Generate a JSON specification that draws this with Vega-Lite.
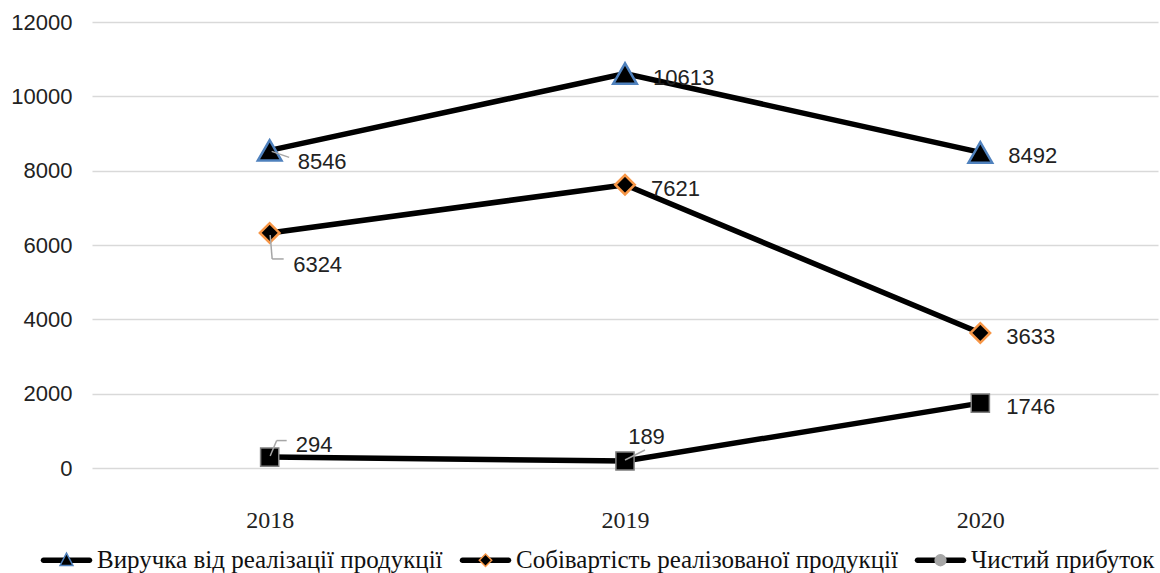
{
  "$schema": "https://vega.github.io/schema/vega-lite/v6.json",
  "width": 1066,
  "height": 446,
  "autosize": {"type": "none"},
  "padding": {"left": 92, "top": 22, "right": 2, "bottom": 105},
  "background": "white",
  "config": {
    "view": {"stroke": null},
    "axis": {"title": null},
    "legend": {
      "title": null,
      "orient": "none",
      "legendX": -52,
      "legendY": 511.5,
      "direction": "horizontal",
      "columns": 3,
      "columnPadding": 13,
      "padding": 0,
      "symbolSize": 2652.25,
      "symbolStrokeWidth": 1.5,
      "symbolOpacity": 1,
      "labelOffset": 4,
      "labelLimit": 1000,
      "labelFont": "Liberation Serif",
      "labelFontSize": 25,
      "labelColor": "#111111"
    }
  },
  "data": {
    "values": [
      {"year": "2018", "series": "Виручка від реалізації продукції", "value": 8546},
      {"year": "2019", "series": "Виручка від реалізації продукції", "value": 10613},
      {"year": "2020", "series": "Виручка від реалізації продукції", "value": 8492},
      {"year": "2018", "series": "Собівартість реалізованої продукції", "value": 6324},
      {"year": "2019", "series": "Собівартість реалізованої продукції", "value": 7621},
      {"year": "2020", "series": "Собівартість реалізованої продукції", "value": 3633},
      {"year": "2018", "series": "Чистий прибуток", "value": 294},
      {"year": "2019", "series": "Чистий прибуток", "value": 189},
      {"year": "2020", "series": "Чистий прибуток", "value": 1746}
    ]
  },
  "encoding": {
    "x": {
      "field": "year",
      "type": "nominal",
      "scale": {"type": "point", "padding": 0.5},
      "axis": {
        "domain": false,
        "ticks": false,
        "grid": false,
        "labelAngle": 0,
        "labelFont": "Liberation Serif",
        "labelFontSize": 24,
        "labelColor": "#222222",
        "labelPadding": 40
      }
    },
    "y": {
      "field": "value",
      "type": "quantitative",
      "scale": {"domain": [0, 12000], "nice": false},
      "axis": {
        "values": [0, 2000, 4000, 6000, 8000, 10000, 12000],
        "format": "d",
        "domain": false,
        "ticks": false,
        "grid": true,
        "gridColor": "#d9d9d9",
        "gridWidth": 1.5,
        "labelFont": "Liberation Sans",
        "labelFontSize": 22,
        "labelColor": "#222222",
        "labelPadding": 20
      }
    }
  },
  "resolve": {
    "scale": {"shape": "independent", "fill": "independent", "stroke": "independent"},
    "legend": {"shape": "independent", "fill": "independent", "stroke": "independent"}
  },
  "layer": [
    {
      "mark": {"type": "line", "color": "#000000", "strokeWidth": 5.5},
      "encoding": {"detail": {"field": "series", "type": "nominal"}}
    },
    {
      "transform": [{"filter": "datum.series === 'Виручка від реалізації продукції'"}],
      "mark": {"type": "point", "shape": "triangle-up", "filled": true, "fill": "#000000", "stroke": "#4f81bd", "opacity": 1, "size": 560, "strokeWidth": 2.5}
    },
    {
      "transform": [{"filter": "datum.series === 'Собівартість реалізованої продукції'"}],
      "mark": {"type": "point", "shape": "diamond", "filled": true, "fill": "#000000", "stroke": "#f79646", "opacity": 1, "size": 380, "strokeWidth": 2.5}
    },
    {
      "transform": [{"filter": "datum.series === 'Чистий прибуток'"}],
      "mark": {"type": "point", "shape": "square", "filled": true, "fill": "#000000", "stroke": "#808080", "opacity": 1, "size": 330, "strokeWidth": 1.5}
    },
    {
      "mark": {"type": "point", "filled": true, "fill": "#000000", "stroke": "#000000", "opacity": 0, "strokeWidth": 1.5},
      "encoding": {
        "shape": {
          "field": "series",
          "type": "nominal",
          "scale": {
            "domain": ["Виручка від реалізації продукції", "Собівартість реалізованої продукції", "Чистий прибуток"],
            "range": [
              "M-0.893,-0.107L0.893,-0.107A0.107,0.107 0 0 1 0.893,0.107L-0.893,0.107A0.107,0.107 0 0 1 -0.893,-0.107Z",
              "M-0.893,-0.107L0.893,-0.107A0.107,0.107 0 0 1 0.893,0.107L-0.893,0.107A0.107,0.107 0 0 1 -0.893,-0.107Z",
              "M-0.893,-0.107L0.893,-0.107A0.107,0.107 0 0 1 0.893,0.107L-0.893,0.107A0.107,0.107 0 0 1 -0.893,-0.107Z"
            ]
          },
          "legend": {
            "symbolFillColor": "#000000",
            "symbolStrokeColor": "#000000",
            "labelOpacity": 0,
            "zindex": 1
          }
        }
      }
    },
    {
      "mark": {"type": "point", "filled": true, "opacity": 0, "strokeWidth": 1.5},
      "encoding": {
        "shape": {
          "field": "series",
          "type": "nominal",
          "scale": {
            "domain": ["Виручка від реалізації продукції", "Собівартість реалізованої продукції", "Чистий прибуток"],
            "range": [
              "M-1,0M1,0M0,-0.28L0.25,0.2L-0.25,0.2Z",
              "M-1,0M1,0M0,-0.24L0.24,0L0,0.24L-0.24,0Z",
              "M-1,0M1,0M-0.21,0A0.21,0.21 0 1,0 0.21,0A0.21,0.21 0 1,0 -0.21,0Z"
            ]
          },
          "legend": {"zindex": 2}
        },
        "fill": {
          "field": "series",
          "type": "nominal",
          "scale": {
            "domain": ["Виручка від реалізації продукції", "Собівартість реалізованої продукції", "Чистий прибуток"],
            "range": ["#000000", "#000000", "#a6a6a6"]
          }
        },
        "stroke": {
          "field": "series",
          "type": "nominal",
          "scale": {
            "domain": ["Виручка від реалізації продукції", "Собівартість реалізованої продукції", "Чистий прибуток"],
            "range": ["#4f81bd", "#f79646", "#a6a6a6"]
          }
        }
      }
    },
    {
      "transform": [{"filter": "datum.value === 8546"}],
      "mark": {"type": "rule", "color": "#a6a6a6", "strokeWidth": 1.5, "xOffset": 2, "yOffset": 1, "x2Offset": 19.5, "y2Offset": 7},
      "encoding": {"x2": {"field": "year"}, "y2": {"field": "value"}}
    },
    {
      "transform": [{"filter": "datum.value === 6324"}],
      "mark": {"type": "rule", "color": "#a6a6a6", "strokeWidth": 1.5, "xOffset": 0.5, "yOffset": 2, "x2Offset": 2.5, "y2Offset": 26},
      "encoding": {"x2": {"field": "year"}, "y2": {"field": "value"}}
    },
    {
      "transform": [{"filter": "datum.value === 6324"}],
      "mark": {"type": "rule", "color": "#a6a6a6", "strokeWidth": 1.5, "xOffset": 2.5, "yOffset": 26, "x2Offset": 14, "y2Offset": 26},
      "encoding": {"x2": {"field": "year"}, "y2": {"field": "value"}}
    },
    {
      "transform": [{"filter": "datum.value === 294"}],
      "mark": {"type": "rule", "color": "#a6a6a6", "strokeWidth": 1.5, "xOffset": 0.5, "yOffset": -1, "x2Offset": 7, "y2Offset": -16.5},
      "encoding": {"x2": {"field": "year"}, "y2": {"field": "value"}}
    },
    {
      "transform": [{"filter": "datum.value === 294"}],
      "mark": {"type": "rule", "color": "#a6a6a6", "strokeWidth": 1.5, "xOffset": 7, "yOffset": -16.5, "x2Offset": 17, "y2Offset": -16.5},
      "encoding": {"x2": {"field": "year"}, "y2": {"field": "value"}}
    },
    {
      "transform": [{"filter": "datum.value === 189"}],
      "mark": {"type": "rule", "color": "#a6a6a6", "strokeWidth": 1.5, "xOffset": 0, "yOffset": -1, "x2Offset": 20, "y2Offset": -11},
      "encoding": {"x2": {"field": "year"}, "y2": {"field": "value"}}
    },
    {
      "transform": [{"filter": "datum.series === 'Виручка від реалізації продукції' && datum.year !== '2018'"}],
      "mark": {"type": "text", "align": "left", "baseline": "middle", "dx": 28, "dy": 4, "font": "Liberation Sans", "fontSize": 22, "color": "#222222"},
      "encoding": {"text": {"field": "value", "type": "quantitative"}}
    },
    {
      "transform": [{"filter": "datum.series !== 'Виручка від реалізації продукції' && datum.year !== '2018' && datum.value !== 189"}],
      "mark": {"type": "text", "align": "left", "baseline": "middle", "dx": 26, "dy": 4, "font": "Liberation Sans", "fontSize": 22, "color": "#222222"},
      "encoding": {"text": {"field": "value", "type": "quantitative"}}
    },
    {
      "transform": [{"filter": "datum.value === 8546"}],
      "mark": {"type": "text", "align": "left", "baseline": "middle", "dx": 28, "dy": 12, "font": "Liberation Sans", "fontSize": 22, "color": "#222222"},
      "encoding": {"text": {"field": "value", "type": "quantitative"}}
    },
    {
      "transform": [{"filter": "datum.value === 6324"}],
      "mark": {"type": "text", "align": "left", "baseline": "middle", "dx": 23.5, "dy": 32, "font": "Liberation Sans", "fontSize": 22, "color": "#222222"},
      "encoding": {"text": {"field": "value", "type": "quantitative"}}
    },
    {
      "transform": [{"filter": "datum.value === 294"}],
      "mark": {"type": "text", "align": "left", "baseline": "middle", "dx": 26, "dy": -12, "font": "Liberation Sans", "fontSize": 22, "color": "#222222"},
      "encoding": {"text": {"field": "value", "type": "quantitative"}}
    },
    {
      "transform": [{"filter": "datum.value === 189"}],
      "mark": {"type": "text", "align": "center", "baseline": "middle", "dx": 21.5, "dy": -24, "font": "Liberation Sans", "fontSize": 22, "color": "#222222"},
      "encoding": {"text": {"field": "value", "type": "quantitative"}}
    }
  ]
}
